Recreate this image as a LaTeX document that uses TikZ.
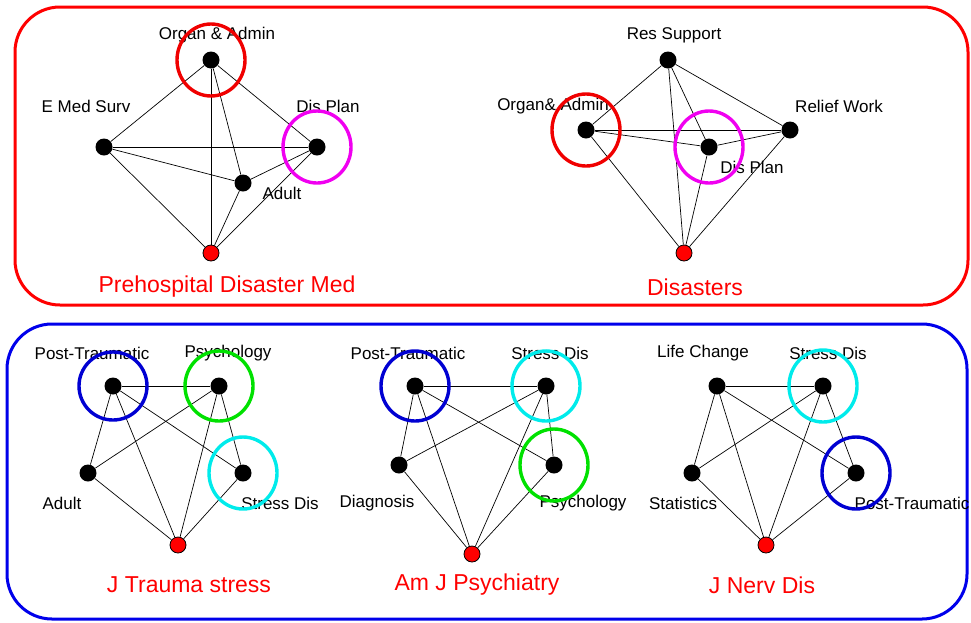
\documentclass[tikz,border=0pt]{standalone}
\usepackage{fontspec}
\setmainfont{Liberation Sans}
\usetikzlibrary{positioning}
\definecolor{hubred}{RGB}{255,0,0}
\definecolor{ringred}{RGB}{240,0,0}
\definecolor{ringmag}{RGB}{240,0,240}
\definecolor{ringblue}{RGB}{0,0,210}
\definecolor{ringgreen}{RGB}{0,225,0}
\definecolor{ringcyan}{RGB}{0,235,235}
\definecolor{boxblue}{RGB}{0,0,235}

\begin{document}
\begin{tikzpicture}[x=1pt,y=-1pt,
    dot/.style={circle,fill=black,inner sep=0pt,minimum size=17pt},
    hub/.style={circle,fill=hubred,draw=black,line width=0.8pt,inner sep=0pt,minimum size=16pt},
    edge/.style={line width=0.7pt},
    lbl/.style={font=\fontsize{17}{20}\selectfont},
    title/.style={font=\fontsize{23}{27}\selectfont,text=hubred},
    ring/.style={line width=3.4pt}]
    \useasboundingbox (0,0) rectangle (971,622);

    % Frames
    \draw[hubred, line width=3pt, rounded corners=45pt] (15,7) rectangle (968,305);
    \draw[boxblue, line width=3pt, rounded corners=45pt] (7,324) rectangle (967,619);

    % Prehospital Disaster Med
    \node[dot] (pa-oa) at (211,60) {};
    \node[dot] (pa-ems) at (104,147) {};
    \node[dot] (pa-dp) at (317,147) {};
    \node[dot] (pa-ad) at (243,183) {};
    \node[hub] (pa-j) at (211,253) {};
    \foreach \u/\v in {pa-oa/pa-ems, pa-oa/pa-dp, pa-oa/pa-ad, pa-oa/pa-j,
        pa-ems/pa-dp, pa-ems/pa-ad, pa-ems/pa-j, pa-ad/pa-dp, pa-ad/pa-j, pa-dp/pa-j}
        \draw[edge] (\u) -- (\v);
    \node[lbl] (pa-oa-t) at (217,35) {Organ \& Admin};
    \node[lbl] (pa-ems-t) at (86,106) {E Med Surv};
    \node[lbl] (pa-dp-t) at (328,106) {Dis Plan};
    \node[lbl] (pa-ad-t) at (282,193) {Adult};
    \node[title] (pa-t) at (227,287) {Prehospital Disaster Med};
    \draw[ring, ringred] (pa-oa.center) ellipse (34 and 36);
    \draw[ring, ringmag] (pa-dp.center) ellipse (34 and 36);

    % Disasters
    \node[dot] (ds-rs) at (668,60) {};
    \node[dot] (ds-oa) at (586,130) {};
    \node[dot] (ds-rw) at (790,130) {};
    \node[dot] (ds-dp) at (709,147) {};
    \node[hub] (ds-j) at (684,253) {};
    \foreach \u/\v in {ds-rs/ds-oa, ds-rs/ds-rw, ds-rs/ds-dp, ds-rs/ds-j,
        ds-oa/ds-rw, ds-oa/ds-dp, ds-oa/ds-j, ds-dp/ds-rw, ds-dp/ds-j, ds-rw/ds-j}
        \draw[edge] (\u) -- (\v);
    \node[lbl] (ds-rs-t) at (674,35) {Res Support};
    \node[lbl] (ds-oa-t) at (553,106) {Organ\& Admin};
    \node[lbl] (ds-rw-t) at (839,106) {Relief Work};
    \node[lbl] (ds-dp-t) at (752,167) {Dis Plan};
    \node[title] (ds-t) at (695,287) {Disasters};
    \draw[ring, ringred] (ds-oa.center) ellipse (34 and 36);
    \draw[ring, ringmag] (ds-dp.center) ellipse (34 and 36);

    % J Trauma stress
    \node[dot] (jt-pt) at (113,386) {};
    \node[dot] (jt-ps) at (219,386) {};
    \node[dot] (jt-ad) at (88,473) {};
    \node[dot] (jt-sd) at (243,473) {};
    \node[hub] (jt-j) at (178,545) {};
    \foreach \u/\v in {jt-pt/jt-ps, jt-pt/jt-ad, jt-pt/jt-sd, jt-pt/jt-j,
        jt-ps/jt-ad, jt-ps/jt-sd, jt-ps/jt-j, jt-ad/jt-j, jt-sd/jt-j}
        \draw[edge] (\u) -- (\v);
    \node[lbl] (jt-pt-t) at (92,353) {Post-Traumatic};
    \node[lbl] (jt-ps-t) at (228,353) {Psychology};
    \node[lbl] (jt-ad-t) at (62,503) {Adult};
    \node[lbl] (jt-sd-t) at (280,503) {Stress Dis};
    \node[title] (jt-t) at (189,585) {J Trauma stress};
    \draw[ring, ringblue] (jt-pt.center) ellipse (34 and 34);
    \draw[ring, ringgreen] (jt-ps.center) ellipse (34 and 35);
    \draw[ring, ringcyan] (jt-sd.center) ellipse (34 and 36);

    % Am J Psychiatry
    \node[dot] (ap-pt) at (415,386) {};
    \node[dot] (ap-sd) at (546,386) {};
    \node[dot] (ap-dg) at (399,465) {};
    \node[dot] (ap-ps) at (554,465) {};
    \node[hub] (ap-j) at (472,554) {};
    \foreach \u/\v in {ap-pt/ap-sd, ap-pt/ap-dg, ap-pt/ap-ps, ap-pt/ap-j,
        ap-sd/ap-dg, ap-sd/ap-ps, ap-sd/ap-j, ap-dg/ap-j, ap-ps/ap-j}
        \draw[edge] (\u) -- (\v);
    \node[lbl] (ap-pt-t) at (408,353) {Post-Traumatic};
    \node[lbl] (ap-sd-t) at (550,353) {Stress Dis};
    \node[lbl] (ap-dg-t) at (377,503) {Diagnosis};
    \node[lbl] (ap-ps-t) at (583,503) {Psychology};
    \node[title] (ap-t) at (477,585) {Am J Psychiatry};
    \draw[ring, ringblue] (ap-pt.center) ellipse (34 and 35);
    \draw[ring, ringcyan] (ap-sd.center) ellipse (34 and 35);
    \draw[ring, ringgreen] (ap-ps.center) ellipse (34 and 36);

    % J Nerv Dis
    \node[dot] (jn-lc) at (717,386) {};
    \node[dot] (jn-sd) at (823,386) {};
    \node[dot] (jn-st) at (692,473) {};
    \node[dot] (jn-pt) at (856,473) {};
    \node[hub] (jn-j) at (766,545) {};
    \foreach \u/\v in {jn-lc/jn-sd, jn-lc/jn-st, jn-lc/jn-pt, jn-lc/jn-j,
        jn-sd/jn-st, jn-sd/jn-pt, jn-sd/jn-j, jn-st/jn-j, jn-pt/jn-j}
        \draw[edge] (\u) -- (\v);
    \node[lbl] (jn-lc-t) at (703,353) {Life Change};
    \node[lbl] (jn-sd-t) at (828,353) {Stress Dis};
    \node[lbl] (jn-st-t) at (683,503) {Statistics};
    \node[lbl] (jn-pt-t) at (912,503) {Post-Traumatic};
    \node[title] (jn-t) at (762,585) {J Nerv Dis};
    \draw[ring, ringcyan] (jn-sd.center) ellipse (34 and 36);
    \draw[ring, ringblue] (jn-pt.center) ellipse (34 and 36);
\end{tikzpicture}
\end{document}
